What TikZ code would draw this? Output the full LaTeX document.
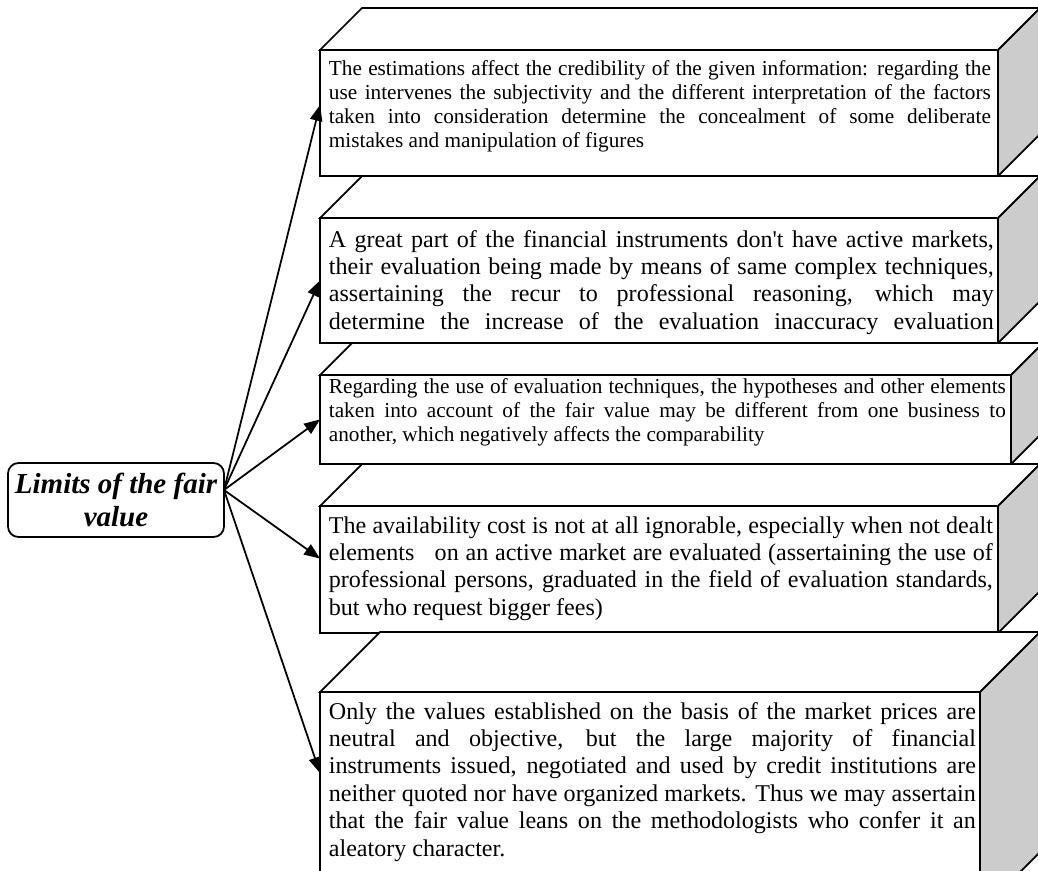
\documentclass[tikz,border=0pt]{standalone}
\usepackage{fontspec}
\setmainfont{Liberation Serif}
\usetikzlibrary{arrows.meta}
\newlength{\px}
\setlength{\px}{0.2mm}
\newcommand{\NoteSmall}{\fontsize{12.1}{13.7}\selectfont}
\newcommand{\NoteLarge}{\fontsize{13.7}{15.6}\selectfont}
\newcommand{\TitleFont}{\fontsize{16.5}{18.8}\selectfont\bfseries\itshape}
\tikzset{front/.style={draw,fill=white,inner sep=0pt,outer sep=0pt,anchor=north west}}
\tikzset{top face/.style={draw,fill=white}}
\tikzset{side face/.style={draw,fill=gray!40}}
\tikzset{note/.style={anchor=base west,inner sep=0pt,align=justify}}
\tikzset{limits/.style={draw,rounded corners=6pt,align=center,inner sep=0pt,outer sep=0pt,minimum width=216\px,minimum height=74\px,font=\TitleFont}}

\begin{document}
\begin{tikzpicture}[x=1\px, y=-1\px, >={Triangle[length=9pt,width=7pt]}, line width=1pt]
\path[use as bounding box, clip] (0,0) rectangle (1038,870);

% the five cuboids
\foreach \t/\w/\h/\d [count=\i] in {50/678/126/42, 218/678/125/42, 375/691/89/32, 506/678/127/42, 692/660/220/60}{
\node [front, minimum width=\w\px, minimum height=\h\px] (box-\i) at (320,\t) {};
\draw [top face] (box-\i.north west) -- ++(\d,-\d) -- ++(\w,0) -- (box-\i.north east) -- cycle;
\draw [side face] (box-\i.north east) -- ++(\d,-\d) -- ++(0,\h) -- (box-\i.south east) -- cycle;
}

\node [note, text width=662\px, font=\NoteSmall] (note-1) at (328,75) {The estimations affect the credibility of the given information: regarding the\linebreak use intervenes the subjectivity and the different interpretation of the factors\linebreak taken into consideration determine the concealment of some deliberate\linebreak mistakes and manipulation of figures};

\node [note, text width=665\px, font=\NoteLarge] (note-2) at (328,247) {A great part of the financial instruments don\textquotesingle t have active markets,\linebreak their evaluation being made by means of same complex techniques,\linebreak assertaining the recur to professional reasoning, which may\linebreak determine the increase of the evaluation inaccuracy evaluation\parfillskip=0pt\par};

\node [note, text width=677\px, font=\NoteSmall] (note-3) at (328,393) {Regarding the use of evaluation techniques, the hypotheses and other elements\linebreak taken into account of the fair value may be different from one business to\linebreak another, which negatively affects the comparability};

\node [note, text width=664\px, font=\NoteLarge] (note-4) at (328,533) {The availability cost is not at all ignorable, especially when not dealt\linebreak elements\ \ \ on an active market are evaluated (assertaining the use of\linebreak professional persons, graduated in the field of evaluation standards,\linebreak but who request bigger fees)};

\node [note, text width=647\px, font=\NoteLarge] (note-5) at (328,719) {Only the values established on the basis of the market prices are\linebreak neutral and objective, but the large majority of financial\linebreak instruments issued, negotiated and used by credit institutions are\linebreak neither quoted nor have organized markets. Thus we may assertain\linebreak that the fair value leans on the methodologists who confer it an\linebreak aleatory character.};

\node [limits] (limits) at (116,500) {Limits of the fair\\ value};

% fan of arrows
\foreach \i/\s in {1/8,2/0,3/0,4/11,5/29}
\draw [->] ([yshift=10\px]limits.east) -- ([yshift=\s\px]box-\i.west);
\end{tikzpicture}
\end{document}
